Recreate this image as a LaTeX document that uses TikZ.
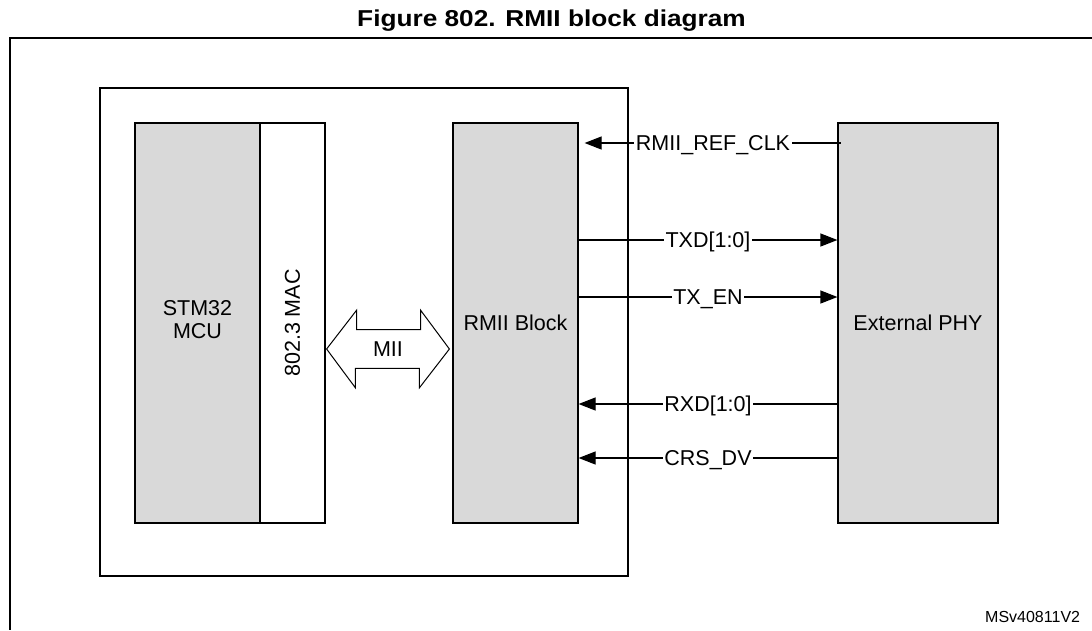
\documentclass[tikz,border=0pt]{standalone}
\usepackage{fontspec}
\setmainfont{Liberation Sans}
\usetikzlibrary{arrows.meta,calc}
\tikzset {>={Triangle[length=17pt,width=13pt]}}

\begin{document}
\begin{tikzpicture}[x=1pt,y=-1pt,line width=1.2pt,
  every node/.style={font=\fontsize{21.5}{23}\selectfont},
  block/.style={draw,fill=gray!30,inner sep=0pt,minimum height=400pt,minimum width=#1},
  sig/.style={fill=white,inner sep=1.5pt,text height=15pt,text depth=0pt}]
\useasboundingbox (0,0) rectangle (1092,630);
\node[anchor=base,xscale=1.14,font=\fontsize{23}{26}\selectfont\bfseries] (title) at (551.5,26.5) {Figure 802. RMII block diagram};
\draw[line width=1.6pt] (1092,38) -- (10,38) -- (10,630);
\node[draw,minimum width=528pt,minimum height=488pt] (soc) at (364,332) {};
\node[block=125pt] (stm) at (197.5,323) {};
\node[align=center] (stmlbl) at (197.5,320) {STM32\\MCU};
\node[draw,fill=white,inner sep=0pt,minimum width=65pt,minimum height=400pt] (mac) at (292.5,323) {};
\node[rotate=90] (maclbl) at (mac.center) {802.3 MAC};
\node[block=125pt] (rmii) at (515.5,323) {RMII Block};
\node[block=160pt] (phy) at (918,323) {External PHY};
% MII bus
\coordinate (miiL) at ($(mac.east)+(1,26)$);
\coordinate (miiR) at ($(rmii.west)+(-3,26)$);
\draw[line width=1pt] (miiL) -- ++(30,-38.8) -- ++(0,19.4) -- ++(64,0) -- ++(0,-19.4) -- (miiR)
  -- ++(-30,38.8) -- ++(0,-19.4) -- ++(-64,0) -- ++(0,19.4) -- cycle;
\node (mii) at ($(miiL)!0.5!(miiR)$) {MII};
% RMII signals
\coordinate (yclk) at (0,143);
\coordinate (ytxd) at (0,240);
\coordinate (yten) at (0,297);
\coordinate (yrxd) at (0,404);
\coordinate (ycrs) at (0,458);
\draw[<-] ($(rmii.east|-yclk)+(6,0)$) -- node[sig]{RMII\_REF\_CLK} ($(phy.west|-yclk)+(4,0)$);
\draw[->] (rmii.east|-ytxd) -- node[sig]{TXD[1:0]} (phy.west|-ytxd);
\draw[->] (rmii.east|-yten) -- node[sig]{TX\_EN} (phy.west|-yten);
\draw[<-] (rmii.east|-yrxd) -- node[sig]{RXD[1:0]} (phy.west|-yrxd);
\draw[<-] (rmii.east|-ycrs) -- node[sig]{CRS\_DV} (phy.west|-ycrs);
\node[anchor=east,font=\fontsize{16}{18}\selectfont] (ref) at (1084,616.5) {MSv40811V2};
\end{tikzpicture}
\end{document}
